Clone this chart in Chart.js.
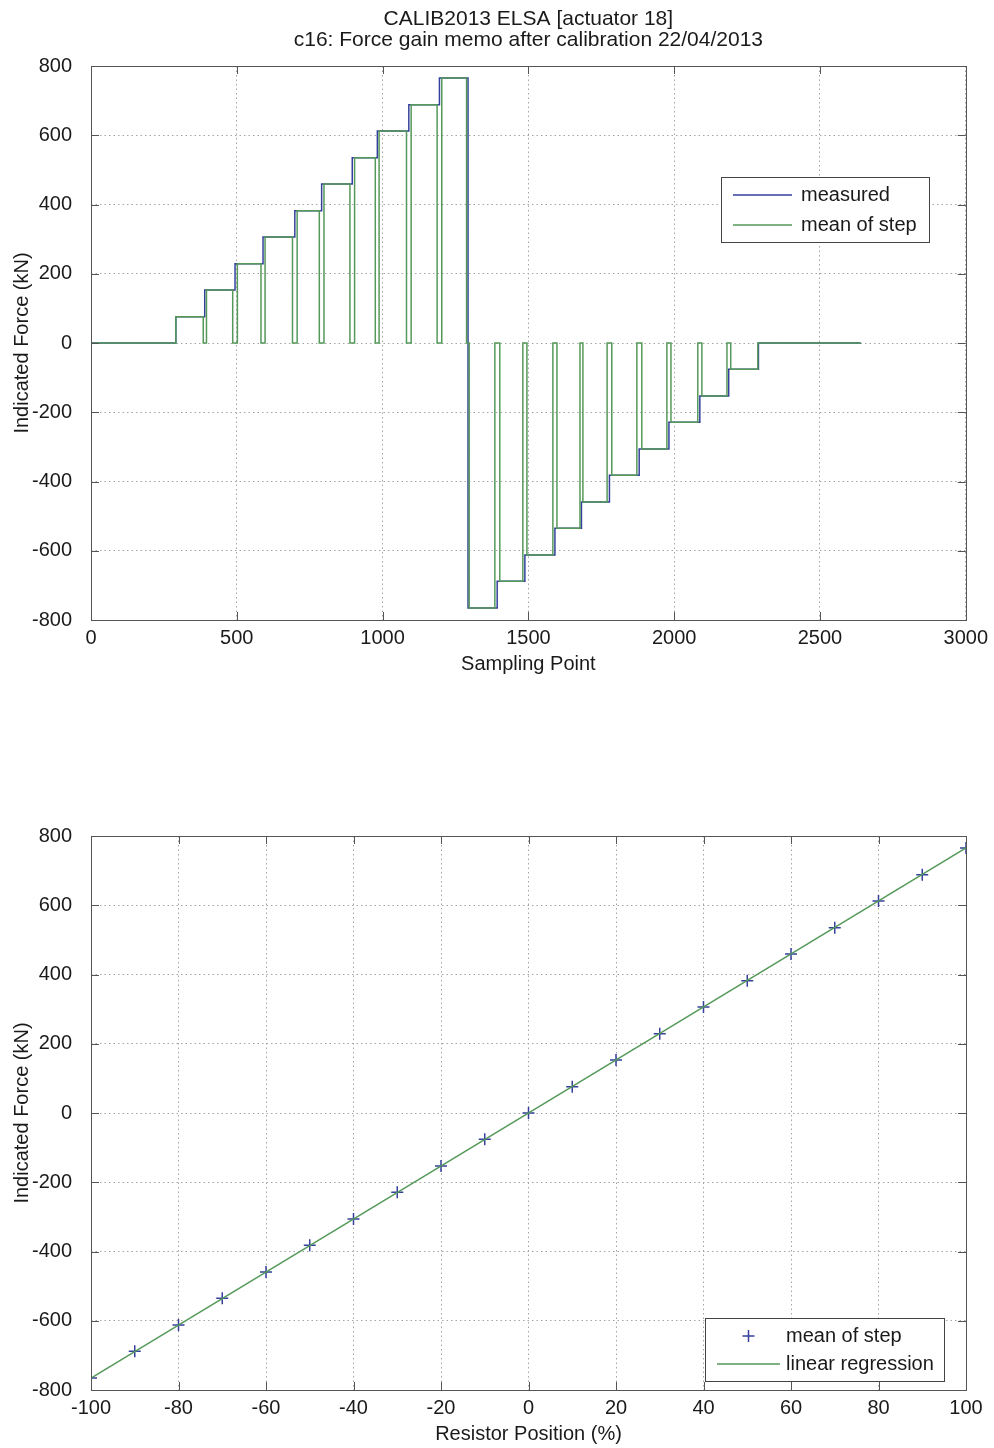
<!DOCTYPE html>
<html>
<head>
<meta charset="utf-8">
<title>CALIB2013 ELSA [actuator 18]</title>
<script src="https://cdn.jsdelivr.net/npm/chart.js@4.4.0/dist/chart.umd.min.js"></script>
<style>
  body { margin: 0; background: #fff; }
  canvas { display: block; }
</style>
</head>
<body>
<canvas id="steps" width="994" height="724"></canvas>
<canvas id="regression" width="994" height="724"></canvas>
<script>
// sampling points where the measured force jumps, and the force on each plateau (kN)
const stepChanges = [291, 390, 494, 590, 699, 791, 896, 982, 1090, 1195, 1293,
                     1393, 1488, 1591, 1682, 1778, 1880, 1982, 2088, 2187, 2289];
const stepLevels = [0, 76, 153, 229, 306, 382, 459, 535, 612, 688, 765,
                    -765, -688, -612, -535, -459, -382, -306, -229, -153, -76, 0];
const lastSample = 2640;

// window used to average each step, and the resulting mean (kN)
const meanStart = [291, 396, 502, 597, 707, 799, 904, 988, 1098, 1203,
                   1297, 1402, 1495, 1598, 1687, 1786, 1889, 1989, 2095, 2194];
const meanEnd = [385, 486, 583, 691, 783, 888, 975, 1082, 1187, 1288,
                 1385, 1481, 1584, 1677, 1770, 1872, 1975, 2081, 2181, 2287];
const meanLevels = [76, 153, 229, 306, 382, 459, 535, 612, 688, 765,
                    -765, -688, -612, -535, -459, -382, -306, -229, -153, -76];

// resistor position (%) against mean force of the step (kN)
const resistorPos = [-100, -90, -80, -70, -60, -50, -40, -30, -20, -10, 0,
                     10, 20, 30, 40, 50, 60, 70, 80, 90, 100];
const stepMeans = [-765, -688, -612, -535, -459, -382, -306, -229, -153, -76, 0,
                   76, 153, 229, 306, 382, 459, 535, 612, 688, 765];
const fitX = [-100, 100];
const fitY = [-766, 766];

const BLUE = '#34409c';
const GREEN = '#55995a';
const FONT = '"Liberation Sans", Arial, Helvetica, sans-serif';
Chart.defaults.font.family = FONT;
Chart.defaults.color = '#1a1a1a';

// staircase of the raw signal
const measured = [{x: 0, y: stepLevels[0]}];
stepChanges.forEach((s, i) => {
  measured.push({x: s, y: stepLevels[i]}, {x: s, y: stepLevels[i + 1]});
});
measured.push({x: lastSample, y: stepLevels[stepLevels.length - 1]});

// mean value held over each window, zero in between
const meanSeries = [{x: 0, y: 0}];
meanLevels.forEach((v, i) => {
  meanSeries.push({x: meanStart[i], y: 0}, {x: meanStart[i], y: v},
                  {x: meanEnd[i], y: v}, {x: meanEnd[i], y: 0});
});
meanSeries.push({x: lastSample, y: 0});

// box and inward tick marks on all four sides
const frame = {
  id: 'frame',
  afterDraw(chart) {
    const {ctx, chartArea: a, scales: {x, y}} = chart;
    ctx.save();
    ctx.strokeStyle = '#555';
    ctx.lineWidth = 1;
    ctx.beginPath();
    x.ticks.forEach(t => {
      const px = Math.round(x.getPixelForValue(t.value)) + 0.5;
      ctx.moveTo(px, a.bottom); ctx.lineTo(px, a.bottom - 8);
      ctx.moveTo(px, a.top); ctx.lineTo(px, a.top + 8);
    });
    y.ticks.forEach(t => {
      const py = Math.round(y.getPixelForValue(t.value)) + 0.5;
      ctx.moveTo(a.left, py); ctx.lineTo(a.left + 8, py);
      ctx.moveTo(a.right, py); ctx.lineTo(a.right - 8, py);
    });
    ctx.stroke();
    ctx.strokeRect(Math.round(a.left) + 0.5, Math.round(a.top) + 0.5,
                   Math.round(a.width), Math.round(a.height));
    ctx.restore();
  }
};

// legend box placed inside the axes
const boxLegend = {
  id: 'boxLegend',
  afterDraw(chart, args, opts) {
    const {ctx} = chart;
    const [bx, by, bw, bh] = opts.box;
    ctx.save();
    ctx.fillStyle = '#fff';
    ctx.fillRect(bx, by, bw, bh);
    ctx.strokeStyle = '#444';
    ctx.lineWidth = 1;
    ctx.strokeRect(bx + 0.5, by + 0.5, bw, bh);
    ctx.font = '20px ' + FONT;
    ctx.textBaseline = 'middle';
    chart.data.datasets.forEach((ds, i) => {
      const ry = opts.rows[i];
      const [x0, x1] = opts.sample;
      ctx.strokeStyle = ds.borderColor;
      ctx.lineWidth = 1.5;
      ctx.beginPath();
      if (ds.showLine === false) {
        const cx = (x0 + x1) / 2;
        ctx.moveTo(cx - 6, ry); ctx.lineTo(cx + 6, ry);
        ctx.moveTo(cx, ry - 6); ctx.lineTo(cx, ry + 6);
      } else {
        ctx.moveTo(x0, ry); ctx.lineTo(x1, ry);
      }
      ctx.stroke();
      ctx.fillStyle = '#1a1a1a';
      ctx.fillText(ds.label, opts.textX, ry);
    });
    ctx.restore();
  }
};

function axis(min, max, step, title, isX) {
  return {
    type: 'linear',
    min: min,
    max: max,
    ticks: {
      stepSize: step,
      autoSkip: false,
      maxRotation: 0,
      padding: isX ? 6 : 19,
      color: '#1a1a1a',
      font: {size: 20},
      callback: v => String(v)
    },
    grid: {color: '#a5a5a5', lineWidth: 1, drawTicks: false},
    border: {display: false, dash: [1.5, 3]},
    title: {
      display: true,
      text: title,
      color: '#1a1a1a',
      font: {size: 20},
      padding: isX ? {top: 0, bottom: 0} : {top: 10, bottom: 0}
    },
    afterFit: s => {
      if (isX) s.height = 56; else s.width = 91;
    }
  };
}

new Chart(document.getElementById('steps'), {
  type: 'line',
  data: {
    datasets: [
      {label: 'measured', data: measured, borderColor: BLUE, borderWidth: 1.5,
       pointRadius: 0, tension: 0, order: 1},
      {label: 'mean of step', data: meanSeries, borderColor: GREEN, borderWidth: 1.5,
       pointRadius: 0, tension: 0, order: 0}
    ]
  },
  options: {
    responsive: false,
    animation: false,
    layout: {padding: {left: 0, right: 28, top: 0, bottom: 48}},
    scales: {
      x: axis(0, 3000, 500, 'Sampling Point', true),
      y: axis(-800, 800, 200, 'Indicated Force (kN)', false)
    },
    plugins: {
      legend: {display: false},
      tooltip: {enabled: false},
      title: {
        display: true,
        fullSize: false,
        text: ['CALIB2013 ELSA [actuator 18]', 'c16: Force gain memo after calibration 22/04/2013'],
        color: '#1a1a1a',
        font: {size: 21, weight: 'normal', lineHeight: 1.0},
        padding: {top: 9.2, bottom: 14.8}
      },
      boxLegend: {box: [721, 177, 208, 65], rows: [195, 225], sample: [733, 792], textX: 801}
    }
  },
  plugins: [frame, boxLegend]
});

new Chart(document.getElementById('regression'), {
  type: 'scatter',
  data: {
    datasets: [
      {label: 'mean of step', data: resistorPos.map((p, i) => ({x: p, y: stepMeans[i]})),
       borderColor: BLUE, backgroundColor: BLUE, pointStyle: 'cross', pointRadius: 6,
       pointBorderWidth: 1.5, showLine: false, order: 1},
      {label: 'linear regression', data: fitX.map((p, i) => ({x: p, y: fitY[i]})),
       borderColor: GREEN, borderWidth: 1.5, pointRadius: 0, showLine: true, order: 0}
    ]
  },
  options: {
    responsive: false,
    animation: false,
    layout: {padding: {left: 0, right: 28, top: 112, bottom: 2}},
    scales: {
      x: axis(-100, 100, 20, 'Resistor Position (%)', true),
      y: axis(-800, 800, 200, 'Indicated Force (kN)', false)
    },
    plugins: {
      legend: {display: false},
      tooltip: {enabled: false},
      boxLegend: {box: [705, 594, 239, 63], rows: [612, 640], sample: [717, 780], textX: 786}
    }
  },
  plugins: [frame, boxLegend]
});
</script>
</body>
</html>
